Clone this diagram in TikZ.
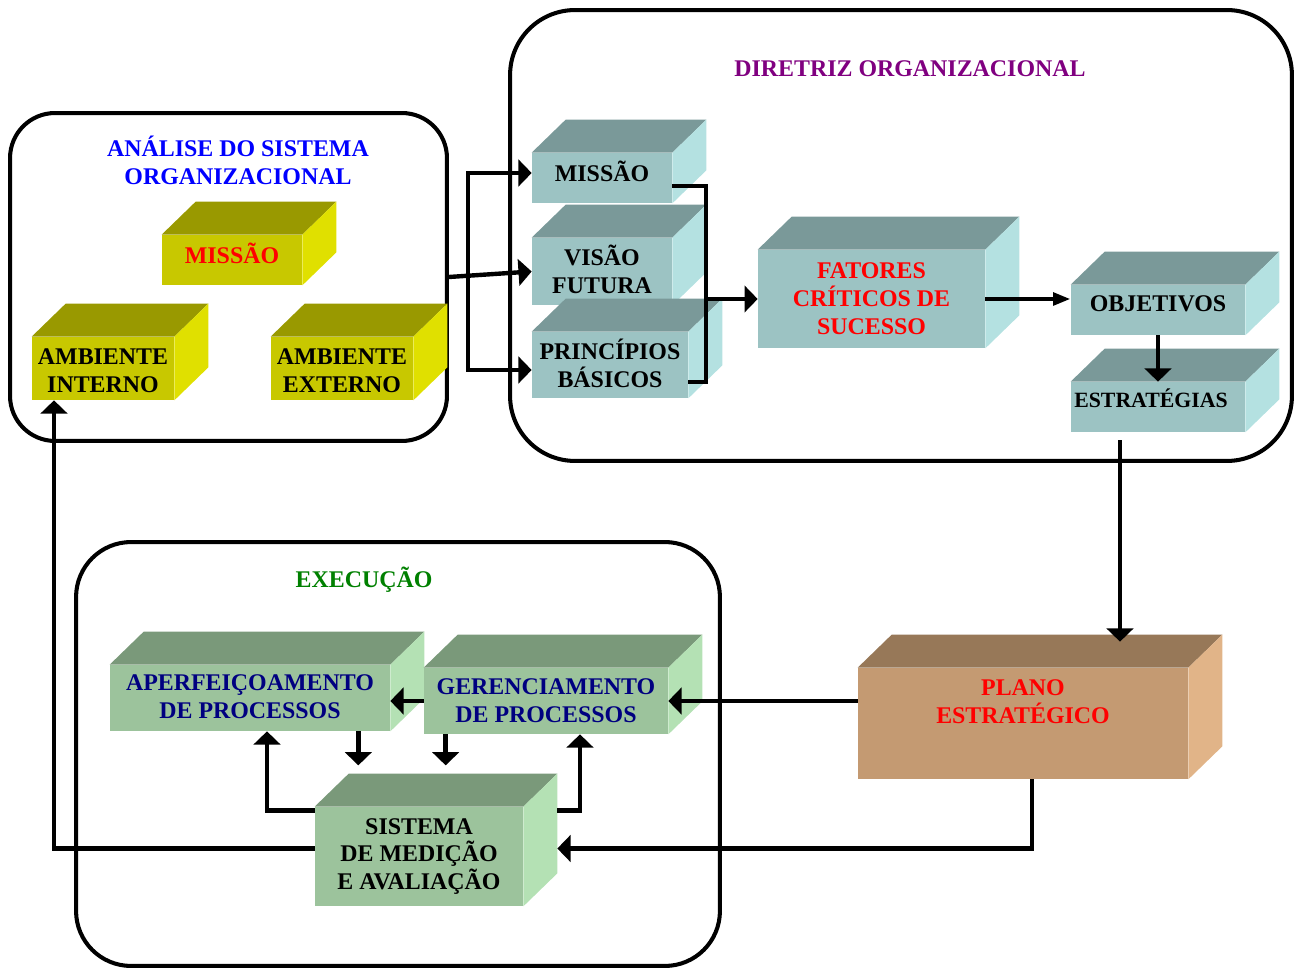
\documentclass[tikz,border=0pt]{standalone}
\usepackage{fontspec}
\setmainfont{Liberation Serif}
\usetikzlibrary{arrows.meta,calc}

\definecolor{yel-f}{HTML}{C8C800}
\definecolor{yel-t}{HTML}{999900}
\definecolor{yel-s}{HTML}{E0E000}
\definecolor{tea-f}{HTML}{9CC3C3}
\definecolor{tea-t}{HTML}{7A9999}
\definecolor{tea-s}{HTML}{B4E1E1}
\definecolor{grn-f}{HTML}{9CC39C}
\definecolor{grn-t}{HTML}{7A997A}
\definecolor{grn-s}{HTML}{B4E1B4}
\definecolor{brn-f}{HTML}{C49A72}
\definecolor{brn-t}{HTML}{977858}
\definecolor{brn-s}{HTML}{E1B488}
\definecolor{navy}{HTML}{000080}
\definecolor{purp}{HTML}{800080}
\definecolor{dgreen}{HTML}{008000}

\newcommand\boxfont{\fontsize{13.6}{15.9}\selectfont\bfseries}

\tikzset{
  panel/.style={draw, line width=2.3pt, rounded corners=#1, inner sep=0pt},
  box/.style={fill=#1-f, inner sep=0pt},
  ttl/.style={align=center, font=\boxfont},
  lnk/.style={line width=2.5pt},
  arr/.style={line width=2.5pt, -{Triangle[length=7.5pt,width=15pt]}},
}

\begin{document}
\begin{tikzpicture}[x=0.02cm, y=-0.02cm]
  \useasboundingbox (0,0) rectangle (1299,969);
  %% Panels
  \node[panel=0.9cm, minimum width=8.74cm, minimum height=6.56cm] (analise) at (228.5,277) {};
  \node[panel=1.3cm, minimum width=15.64cm, minimum height=9.02cm] (diretriz) at (901,235.5) {};
  \node[panel=1.1cm, minimum width=12.88cm, minimum height=8.48cm] (execucao) at (398,754) {};
  %% Panel titles
  \node[ttl, text=blue] (t-analise) at (238,160) {ANÁLISE DO SISTEMA\\ORGANIZACIONAL};
  \node[ttl, text=purp] (t-diretriz) at (910,69) {DIRETRIZ ORGANIZACIONAL};
  \node[ttl, text=dgreen] (t-execucao) at (364,580) {EXECUÇÃO};
  %% 3D boxes: name/x/y/width/height/colour/text colour/text shift (px)/label
  \foreach \nm/\x/\y/\w/\h/\cl/\tc/\dx/\dy/\lbl in {
    amissao/232/260/2.8/1.0/yel/red/0/7/{MISSÃO},
    ambint/103/368.5/2.84/1.26/yel/black/0/-2/{AMBIENTE\\INTERNO},
    ambext/342/368.5/2.84/1.26/yel/black/0/-2/{AMBIENTE\\EXTERNO},
    missao/602/178/2.8/1.0/tea/black/0/7/{MISSÃO},
    visao/602/271.5/2.8/1.34/tea/black/0/2/{VISÃO\\FUTURA},
    princ/610/365/3.12/1.32/tea/black/0/2/{PRINCÍPIOS\\BÁSICOS},
    fatores/871.5/299/4.54/1.96/tea/red/0/0/{FATORES\\CRÍTICOS DE\\SUCESSO},
    objetivos/1158/310/3.48/1.0/tea/black/0/6/{OBJETIVOS},
    estrategias/1158/407/3.48/1.0/tea/black/-7/9/{\fontsize{12.4}{14}\selectfont ESTRATÉGIAS},
    aperf/250/698/5.6/1.32/grn/navy/0/1/{APERFEIÇOAMENTO\\DE PROCESSOS},
    gerenc/546/701/4.88/1.32/grn/navy/0/0/{GERENCIAMENTO\\DE PROCESSOS},
    sistema/419/856.5/4.16/1.98/grn/black/0/0/{SISTEMA\\DE MEDIÇÃO\\E AVALIAÇÃO},
    plano/1023/723.5/6.6/2.22/brn/red/0/22/{PLANO\\ESTRATÉGICO}}{
    \node[box=\cl, minimum width=\w cm, minimum height=\h cm] (\nm) at (\x,\y) {};
    \fill[\cl-t] (\nm.north west) -- ++(34,-33) -- ($(\nm.north east)+(34,-33)$) -- (\nm.north east) -- cycle;
    \fill[\cl-s] (\nm.north east) -- ++(34,-33) -- ($(\nm.south east)+(34,-33)$) -- (\nm.south east) -- cycle;
    \node[ttl, text=\tc, xshift=\dx*0.02cm, yshift=\dy*0.02cm] (\nm-txt) at (\nm.center) {\lbl};
  }
  %% Connectors
  \coordinate (brk) at (468,273);
  \coordinate (jn) at (706,299);
  \draw[arr] (analise.east) -- (visao.west);
  \draw[arr] (brk) |- ($(missao.west)+(0,-5)$);
  \draw[arr] (brk) |- ($(princ.west)+(0,5)$);
  \draw[lnk] ($(missao.east)+(0,8)$) -| (jn) |- ($(princ.east)+(0,17)$);
  \draw[arr] (jn) -- (fatores.west);
  \draw[lnk, -{Triangle[length=10pt,width=7pt]}] (fatores.east) -- (fatores.east -| objetivos.west);
  \draw[arr] (objetivos.south) -- (estrategias.north);
  \draw[arr] ($(estrategias.south)+(-38,8)$) -- ($(plano.north)+(97,-26)$);
  \draw[arr] (gerenc.east -| plano.west) -- (gerenc.east);
  \draw[arr] ($(plano.south)+(9,0)$) |- ($(sistema.east)+(34,-8)$);
  \draw[arr] ($(sistema.west)+(0,-8)$) -| ($(ambint.south)+(-49,0)$);
  \draw[arr] (gerenc.west) -- (gerenc.west -| aperf.east);
  \draw[arr] ($(aperf.south east)+(-32,0)$) -- ++(0,34);
  \draw[arr] ($(gerenc.south west)+(22,0)$) -- ++(0,31);
  \draw[arr] ($(sistema.north west)+(0,4)$) -| ($(aperf.south)+(17,0)$);
  \draw[arr] ($(sistema.north east)+(34,4)$) -| ($(gerenc.south)+(34,0)$);
\end{tikzpicture}
\end{document}
